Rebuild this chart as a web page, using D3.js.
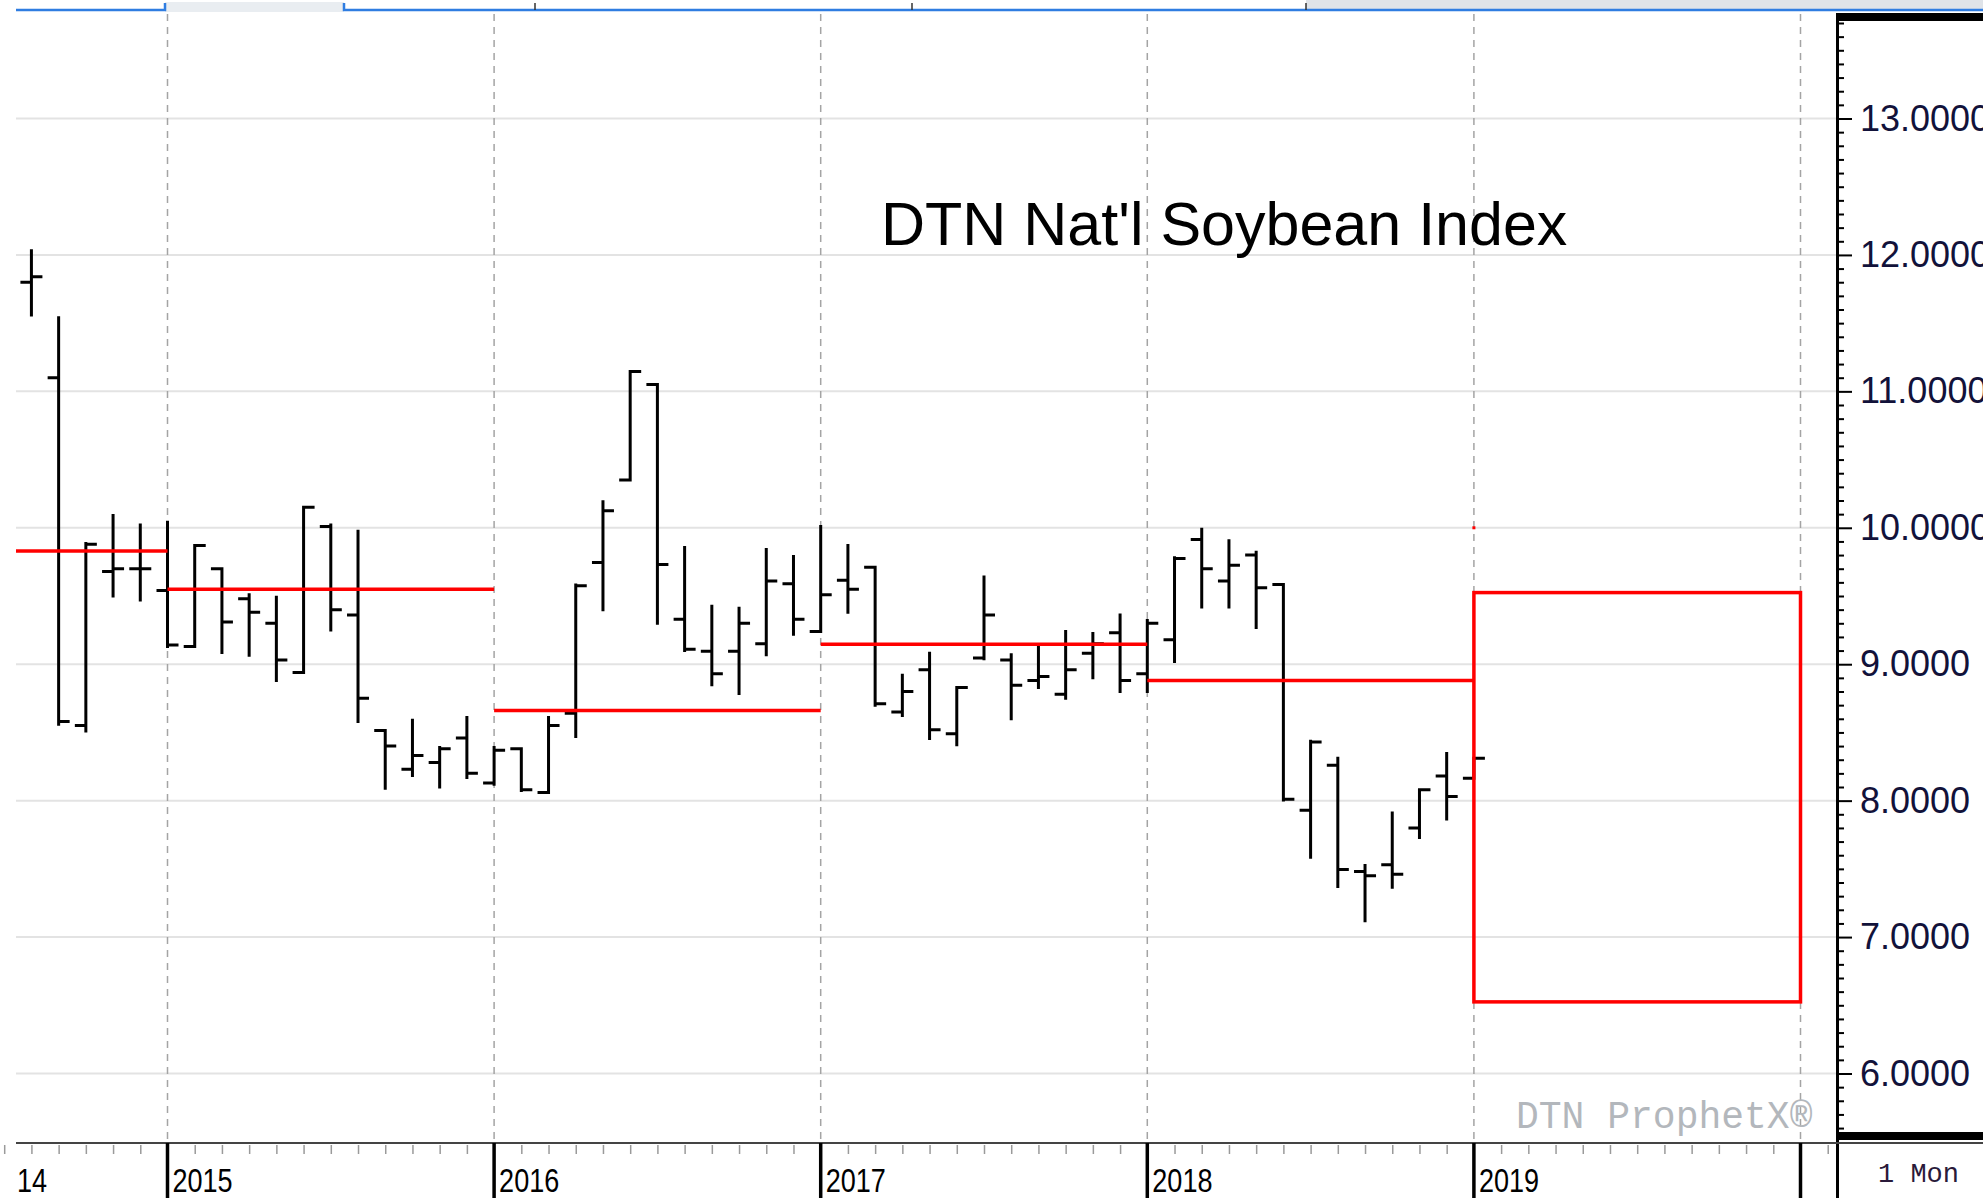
<!DOCTYPE html>
<html><head><meta charset="utf-8">
<script src="https://cdn.jsdelivr.net/npm/d3@7"></script>
<style>body{margin:0;background:#fff;} svg{display:block;}</style>
</head><body>
<svg id="c" width="1983" height="1198"></svg>
<script>
// ---- data (monthly OHLC, DTN National Soybean Index) ----
const months = ["2014-08","2014-09","2014-10","2014-11","2014-12",
  "2015-01","2015-02","2015-03","2015-04","2015-05","2015-06","2015-07","2015-08","2015-09","2015-10","2015-11","2015-12",
  "2016-01","2016-02","2016-03","2016-04","2016-05","2016-06","2016-07","2016-08","2016-09","2016-10","2016-11","2016-12",
  "2017-01","2017-02","2017-03","2017-04","2017-05","2017-06","2017-07","2017-08","2017-09","2017-10","2017-11","2017-12",
  "2018-01","2018-02","2018-03","2018-04","2018-05","2018-06","2018-07","2018-08","2018-09","2018-10","2018-11","2018-12",
  "2019-01"];
const opens  = [11.80,11.10,8.55,9.68,9.70, 9.54,9.13,9.70,9.48,9.30,8.94,10.01,9.36,8.515,8.23,8.28,8.46,
  8.13,8.38,8.06,8.64,9.745,10.35,11.05,9.33,9.095,9.095,9.15,9.59,
  9.24,9.615,9.71,8.65,8.96,8.49,9.045,9.03,8.88,8.78,9.08,9.23,
  8.93,9.18,9.915,9.61,9.80,9.585,7.93,8.26,7.48,7.53,7.80,8.18, 8.165];
const highs  = [12.03,11.54,9.885,10.09,10.02, 10.04,9.87,9.70,9.51,9.49,10.15,10.02,9.975,8.515,8.59,8.39,8.61,
  8.39,8.38,8.61,9.58,10.19,11.145,11.05,9.855,9.425,9.41,9.84,9.79,
  10.01,9.87,9.71,8.92,9.08,8.83,9.64,9.07,9.13,9.24,9.225,9.36,
  9.32,9.78,9.99,9.905,9.82,9.585,8.435,8.31,7.525,7.91,8.08,8.345, 8.31];
const lows   = [11.56,8.56,8.51,9.50,9.47, 9.13,9.13,9.085,9.065,8.88,8.94,9.25,8.58,8.09,8.185,8.10,8.17,
  8.12,8.075,8.06,8.47,9.40,10.35,9.30,9.10,8.85,8.785,9.07,9.22,
  9.24,9.38,8.70,8.625,8.455,8.41,9.04,8.60,8.83,8.75,8.90,8.80,
  8.80,9.02,9.42,9.42,9.27,8.005,7.585,7.37,7.12,7.365,7.73,7.865, 8.165];
const closes = [11.84,8.58,9.88,9.70,9.70, 9.14,9.87,9.31,9.38,9.03,10.15,9.40,8.75,8.40,8.33,8.38,8.20,
  8.37,8.08,8.55,9.575,10.125,11.145,9.73,9.11,8.93,9.30,9.61,9.33,
  9.51,9.55,8.71,8.80,8.52,8.83,9.36,8.845,8.91,8.96,9.15,8.88,
  9.30,9.775,9.70,9.725,9.56,8.01,8.43,7.495,7.45,7.46,8.08,8.03, 8.31];

const avgYears  = [2014, 2015, 2016, 2017, 2018];
const avgValues = [9.83, 9.55, 8.66, 9.146, 8.88];
const rangeYear = 2019, rangeHigh = 9.525, rangeLow = 6.525, rangeMark = 10.0;

const yTicks = [6, 7, 8, 9, 10, 11, 12, 13];
const yearTickYears = [2015, 2016, 2017, 2018, 2019, 2020];
const yearLabels = ["14", "2015", "2016", "2017", "2018", "2019"];
const titleText = "DTN Nat'l Soybean Index";
const watermark = "DTN ProphetX\u00AE";
const periodLabel = "1 Mon";

// ---- layout ----
const svg = d3.select("#c");
const W = 1983, H = 1198;
const plotL = 16, plotR = 1837, plotT = 12, plotB = 1143;

const monthIndex = s => { const [yy, mm] = s.split("-").map(Number); return (yy - 2015) * 12 + (mm - 1); };
const x = d3.scaleLinear().domain([0, 60]).range([167.5, 1800.5]);
const y = d3.scaleLinear().domain([6, 13]).range([1073.5, 118.5]);

const data = months.map((m, i) => ({ m: monthIndex(m), o: opens[i], h: highs[i], l: lows[i], c: closes[i] }));

svg.append("rect").attr("width", W).attr("height", H).attr("fill", "#fff");

// top chrome (tab strip)
svg.append("rect").attr("x", 1306).attr("y", 0).attr("width", W - 1306).attr("height", 9).attr("fill", "#dfe3e8");
svg.append("rect").attr("x", 165).attr("y", 2).attr("width", 179).attr("height", 10).attr("fill", "#e9edf1");
svg.append("path").attr("d", `M${plotL},10H165V3 M344,3V10H${W}`).attr("fill", "none")
  .attr("stroke", "#2f7de1").attr("stroke-width", 2.5);
[535, 912, 1306].forEach(v => svg.append("line").attr("x1", v).attr("x2", v).attr("y1", 3).attr("y2", 10)
  .attr("stroke", "#333").attr("stroke-width", 1.5));

// horizontal grid
svg.append("g").selectAll("line").data(yTicks).join("line")
  .attr("x1", plotL).attr("x2", plotR).attr("y1", d => y(d)).attr("y2", d => y(d))
  .attr("stroke", "#e3e3e3").attr("stroke-width", 2);

// vertical dashed year lines
svg.append("g").selectAll("line").data(yearTickYears).join("line")
  .attr("x1", d => x((d - 2015) * 12)).attr("x2", d => x((d - 2015) * 12))
  .attr("y1", plotT + 2).attr("y2", plotB)
  .attr("stroke", "#a4a4a4").attr("stroke-width", 1.5).attr("stroke-dasharray", "7,6");

// OHLC bars
const bars = svg.append("g").attr("stroke", "#000").attr("stroke-width", 3).attr("fill", "none");
const tk = 11;
bars.selectAll("path").data(data).join("path")
  .attr("d", d => {
    const cx = x(d.m);
    return `M${cx},${y(d.h) - 1.5}V${y(d.l) + 1.5}` +
      `M${cx - tk},${y(d.o)}H${cx}` +
      `M${cx},${y(d.c)}H${cx + tk}`;
  });

// red annual average lines
const red = svg.append("g").attr("stroke", "#ff0000").attr("stroke-width", 3.5).attr("fill", "none");
red.selectAll("line").data(avgYears.map((yr, i) => ({ yr, v: avgValues[i] }))).join("line")
  .attr("x1", d => d.yr === 2014 ? plotL : x((d.yr - 2015) * 12))
  .attr("x2", d => x((d.yr - 2014) * 12))
  .attr("y1", d => y(d.v)).attr("y2", d => y(d.v));
red.append("rect")
  .attr("x", x((rangeYear - 2015) * 12)).attr("y", y(rangeHigh))
  .attr("width", x((rangeYear - 2014) * 12) - x((rangeYear - 2015) * 12))
  .attr("height", y(rangeLow) - y(rangeHigh));
svg.append("rect").attr("x", x((rangeYear - 2015) * 12) - 1.5).attr("y", y(rangeMark) - 1.5)
  .attr("width", 3).attr("height", 3).attr("fill", "#ff0000");

// title
svg.append("text").attr("x", 881).attr("y", 245).text(titleText)
  .attr("font-family", "'Liberation Sans', Arial, sans-serif").attr("font-size", 61).attr("fill", "#000");

// watermark
svg.append("text").attr("x", 1516).attr("y", 1128).text(watermark)
  .attr("font-family", "'Liberation Mono', 'Courier New', monospace").attr("font-size", 38).attr("fill", "#b3b7bc");

// right axis panel
svg.append("rect").attr("x", plotR).attr("y", 13).attr("width", W - plotR).attr("height", 8).attr("fill", "#000");
svg.append("rect").attr("x", plotR).attr("y", 1132).attr("width", W - plotR).attr("height", 8).attr("fill", "#000");

const minorVals = d3.range(56, 138).map(v => v / 10).filter(v => Math.abs(v - Math.round(v)) > 1e-6);
const yMinor = svg.append("g").attr("transform", `translate(${plotR},0)`)
  .call(d3.axisRight(y).tickValues(minorVals).tickSize(7).tickFormat(""));
yMinor.select(".domain").remove();
yMinor.selectAll("line").attr("stroke", "#000").attr("stroke-width", 2);

const yMajor = svg.append("g").attr("transform", `translate(${plotR},0)`)
  .call(d3.axisRight(y).tickValues(yTicks).tickSize(15).tickPadding(8).tickFormat(d3.format(".4f")));
yMajor.select(".domain").remove();
yMajor.selectAll("line").attr("stroke", "#000").attr("stroke-width", 2);
yMajor.selectAll("text").attr("font-family", "'Liberation Sans', Arial, sans-serif")
  .attr("font-size", 36).attr("fill", "#12123a");

svg.append("line").attr("x1", plotR + 0.5).attr("x2", plotR + 0.5).attr("y1", 13).attr("y2", H)
  .attr("stroke", "#000").attr("stroke-width", 3);

// bottom axis
const xMinor = svg.append("g").attr("transform", `translate(0,${plotB + 2})`)
  .call(d3.axisBottom(x).tickValues(d3.range(-6, 62).filter(m => m % 12 !== 0)).tickSize(9).tickFormat(""));
xMinor.select(".domain").remove();
xMinor.selectAll("line").attr("stroke", "#9a9a9a").attr("stroke-width", 1.5);

svg.append("line").attr("x1", plotL).attr("x2", W).attr("y1", plotB).attr("y2", plotB)
  .attr("stroke", "#444").attr("stroke-width", 2);

svg.append("g").selectAll("line").data(yearTickYears).join("line")
  .attr("x1", d => x((d - 2015) * 12)).attr("x2", d => x((d - 2015) * 12))
  .attr("y1", plotB).attr("y2", H)
  .attr("stroke", "#000").attr("stroke-width", 3.5);

const labelX = (i) => i === 0 ? 17 : x((i - 1) * 12) + 5;
svg.append("g").selectAll("text").data(yearLabels).join("text")
  .attr("transform", (d, i) => `translate(${labelX(i)},1192) scale(0.82,1)`)
  .text(d => d)
  .attr("font-family", "'Liberation Sans', Arial, sans-serif").attr("font-size", 33).attr("fill", "#000");

svg.append("text").attr("x", 1878).attr("y", 1182).text(periodLabel)
  .attr("font-family", "'Liberation Mono', 'Courier New', monospace").attr("font-size", 27).attr("fill", "#2a1a3a");
</script>
</body></html>
